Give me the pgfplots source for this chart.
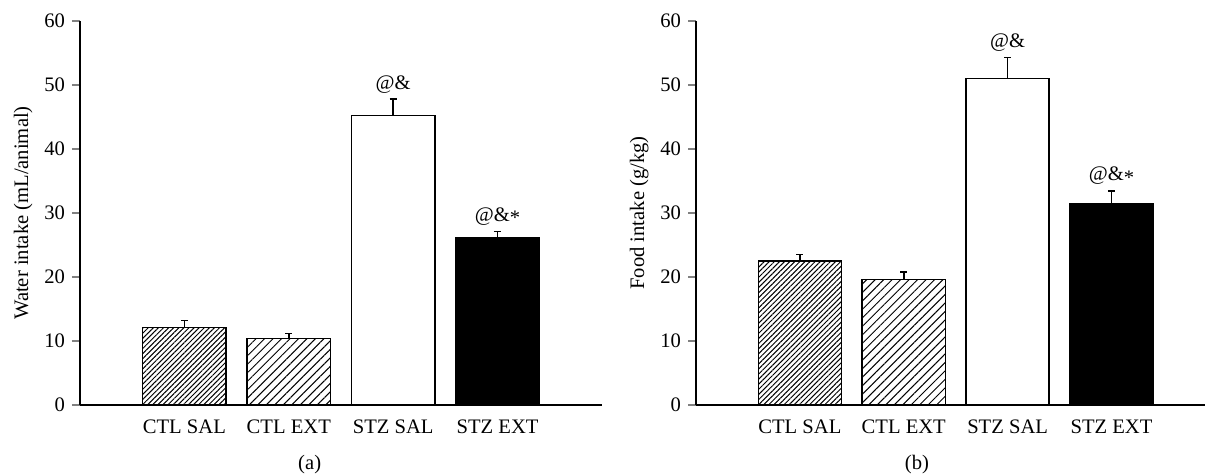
\documentclass[border=0pt]{standalone}
\usepackage{pgfplots}
\pgfplotsset{compat=1.18}
\usepackage{fontspec}
\setmainfont{Liberation Serif}
\usetikzlibrary{patterns.meta}

% water intake (mL/animal): x, mean, sem
\pgfplotstableread{
x y e
1 12.1 1.1
2 10.4 0.8
3 45.2 2.6
4 26.2 0.9
}\water
% food intake (g/kg)
\pgfplotstableread{
x y e
1 22.5 1.0
2 19.6 1.2
3 51.0 3.3
4 31.5 1.9
}\food

\pgfplotsset{
  panel/.style={
    scale only axis, anchor=south west,
    height=192pt,
    ymin=0, ymax=60, ytick={0,10,...,60},
    xmin=0,
    axis x line=bottom, axis y line=left,
    axis line style={-, line width=0.75pt},
    xtick={1,2,3,4},
    xticklabels={CTL SAL, CTL EXT, STZ SAL, STZ EXT},
    major x tick style={draw=none},
    tick align=outside, major tick length=4pt,
    major y tick style={line width=0.75pt},
    /pgf/number format/assume math mode=true,
    font=\fontsize{10.3}{12}\selectfont,
    ylabel style={yshift=-1pt},
    ybar, bar shift=0pt, bar width=0.8,
    clip=false,
    error bars/y dir=plus, error bars/y explicit,
    error bars/error bar style={line width=0.75pt},
    error bars/error mark options={rotate=90, mark size=1.8pt, line width=0.75pt},
  },
  bar/.style={draw=black, line width=0.75pt},
}

\begin{document}
\begin{tikzpicture}
\useasboundingbox (0,0) rectangle (602.5pt,238pt);

\begin{axis}[panel, at={(40pt,35.5pt)}, width=261pt, xmax=5,
  ylabel={Water intake (mL/animal)}]
  \addplot[bar, pattern={Lines[angle=45,distance=1.8pt,line width=0.5pt]}]
    table[x=x, y=y, y error=e, restrict expr to domain={\thisrow{x}}{1:1}] {\water};
  \addplot[bar, pattern={Lines[angle=45,distance=3pt,line width=0.5pt]}]
    table[x=x, y=y, y error=e, restrict expr to domain={\thisrow{x}}{2:2}] {\water};
  \addplot[bar, fill=white]
    table[x=x, y=y, y error=e, restrict expr to domain={\thisrow{x}}{3:3}] {\water};
  \addplot[bar, fill=black]
    table[x=x, y=y, y error=e, restrict expr to domain={\thisrow{x}}{4:4}] {\water};
  \node at (axis cs:3,50.0) {@\&};
  \node at (axis cs:4,29.5) {@\&\raisebox{-0.35ex}{*}};
  \node at (rel axis cs:0.44,0) [yshift=-30pt] {(a)};
\end{axis}

\begin{axis}[panel, at={(348pt,35.5pt)}, width=254.5pt, xmax=4.9,
  ylabel={Food intake (g/kg)}]
  \addplot[bar, pattern={Lines[angle=45,distance=1.8pt,line width=0.5pt]}]
    table[x=x, y=y, y error=e, restrict expr to domain={\thisrow{x}}{1:1}] {\food};
  \addplot[bar, pattern={Lines[angle=45,distance=3pt,line width=0.5pt]}]
    table[x=x, y=y, y error=e, restrict expr to domain={\thisrow{x}}{2:2}] {\food};
  \addplot[bar, fill=white]
    table[x=x, y=y, y error=e, restrict expr to domain={\thisrow{x}}{3:3}] {\food};
  \addplot[bar, fill=black]
    table[x=x, y=y, y error=e, restrict expr to domain={\thisrow{x}}{4:4}] {\food};
  \node at (axis cs:3,56.6) {@\&};
  \node at (axis cs:4,35.8) {@\&\raisebox{-0.35ex}{*}};
  \node at (rel axis cs:0.434,0) [yshift=-30pt] {(b)};
\end{axis}
\end{tikzpicture}
\end{document}
